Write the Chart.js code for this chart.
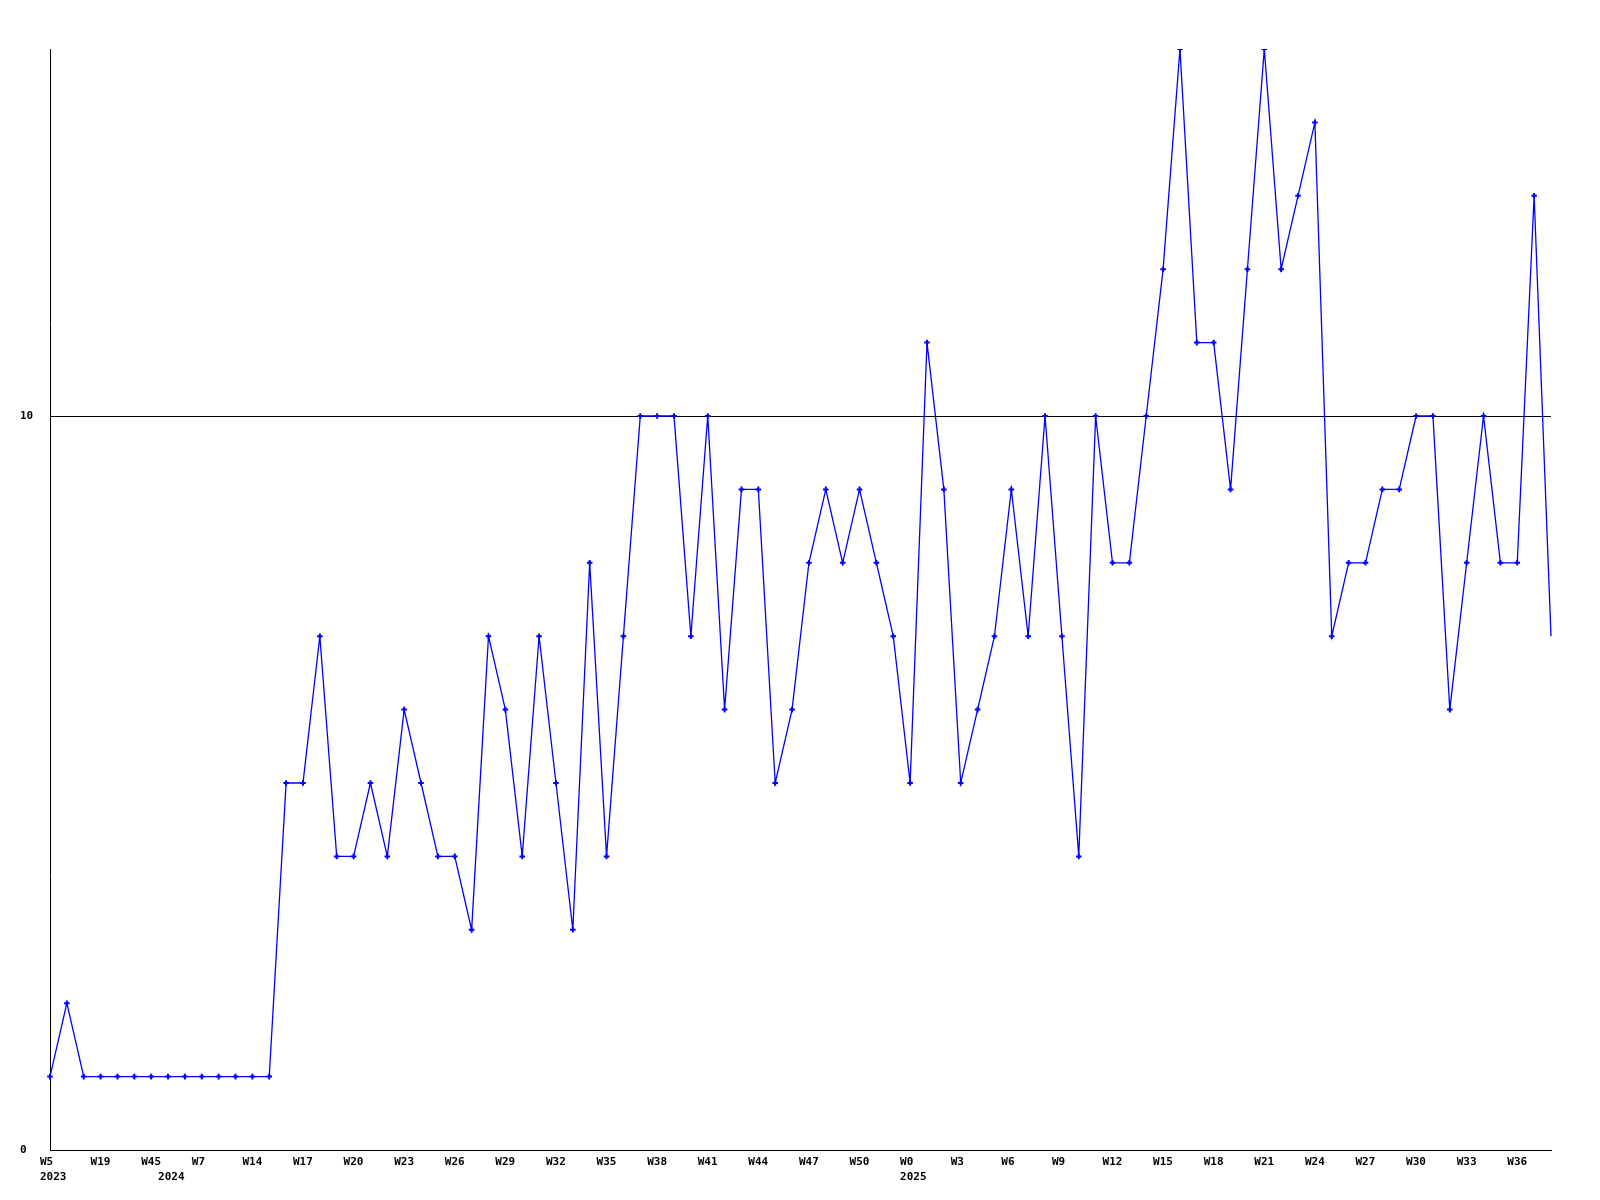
<!DOCTYPE html>
<html>
<head>
<meta charset="utf-8">
<title>Weekly chart</title>
<script src="https://cdn.jsdelivr.net/npm/chart.js@4.4.1/dist/chart.umd.min.js"></script>
<style>
  html, body { margin: 0; padding: 0; background: #ffffff; }
  canvas { display: block; }
</style>
</head>
<body>
<canvas id="weekChart" width="1600" height="1200"></canvas>
<script>
// week labels, one per point ('' where the picture shows none)
const weeks = [
    'W5', '', '', 'W19', '', '', 'W45', '', '', 'W7', '', '',
    'W14', 'W15', 'W16', 'W17', 'W18', 'W19', 'W20', 'W21', 'W22', 'W23', 'W24', 'W25',
    'W26', 'W27', 'W28', 'W29', 'W30', 'W31', 'W32', 'W33', 'W34', 'W35', 'W36', 'W37',
    'W38', 'W39', 'W40', 'W41', 'W42', 'W43', 'W44', 'W45', 'W46', 'W47', 'W48', 'W49',
    'W50', 'W51', 'W52',
    'W0', 'W1', 'W2', 'W3', 'W4', 'W5', 'W6', 'W7', 'W8', 'W9', 'W10', 'W11',
    'W12', 'W13', 'W14', 'W15', 'W16', 'W17', 'W18', 'W19', 'W20', 'W21', 'W22', 'W23',
    'W24', 'W25', 'W26', 'W27', 'W28', 'W29', 'W30', 'W31', 'W32', 'W33', 'W34', 'W35',
    'W36', 'W37', 'W38'
];

// year shown under the first point of each year
const years = { 0: '2023', 7: '2024', 51: '2025' };

const values = [
    1, 2, 1, 1, 1, 1, 1, 1, 1, 1, 1, 1, 1, 1,
    5, 5, 7, 4, 4, 5, 4, 6, 5, 4, 4, 3, 7, 6, 4, 7, 5, 3, 8, 4, 7,
    10, 10, 10, 7, 10, 6, 9, 9, 5, 6, 8, 9, 8, 9, 8, 7, 5,
    11, 9, 5, 6, 7, 9, 7, 10, 7, 4, 10, 8, 8, 10,
    12, 15, 11, 11, 9, 12, 15, 12, 13, 14,
    7, 8, 8, 9, 9, 10, 10, 6, 8, 10, 8, 8, 13, 7
];

const yTicks = [0, 10];
const yMax = 15;

const ctx = document.getElementById('weekChart').getContext('2d');
new Chart(ctx, {
    type: 'line',
    data: {
        labels: weeks,
        datasets: [{
            data: values,
            borderColor: '#0000ff',
            backgroundColor: '#0000ff',
            borderWidth: 1.3,
            tension: 0,
            fill: false,
            pointStyle: 'cross',
            // last point sits on the right edge, drawn without a marker
            pointRadius: c => (c.dataIndex === values.length - 1 ? 0 : 2.8),
            pointBorderWidth: 2,
            pointBorderColor: '#0000ff',
            pointHoverRadius: 0
        }]
    },
    options: {
        responsive: false,
        animation: false,
        devicePixelRatio: 1,
        layout: { padding: { left: 20, top: 49, right: 49, bottom: 0 } },
        plugins: {
            legend: { display: false },
            tooltip: { enabled: false }
        },
        scales: {
            x: {
                offset: false,
                grid: { display: false, drawTicks: false },
                border: { display: true, color: '#000000', width: 1 },
                afterFit: scale => { scale.height = 50; },
                ticks: {
                    autoSkip: false,
                    maxRotation: 0,
                    minRotation: 0,
                    align: 'start',
                    labelOffset: -10,
                    padding: 5,
                    color: '#000000',
                    font: { family: 'DejaVu Sans Mono', size: 11, weight: 'bold', lineHeight: '15px' },
                    callback: (val, i) => [i % 3 === 0 ? weeks[i] : '', years[i] || '']
                }
            },
            y: {
                min: 0,
                max: yMax,
                z: 1, // grid line at 10 sits on top of the data, as in the original
                afterBuildTicks: scale => { scale.ticks = yTicks.map(v => ({ value: v })); },
                afterFit: scale => { scale.width = 30; },
                grid: { color: '#000000', lineWidth: 1, drawTicks: false },
                border: { display: true, color: '#000000', width: 1 },
                ticks: {
                    crossAlign: 'far',
                    padding: 0,
                    color: '#000000',
                    font: { family: 'DejaVu Sans Mono', size: 11, weight: 'bold' }
                }
            }
        }
    }
});
</script>
</body>
</html>
